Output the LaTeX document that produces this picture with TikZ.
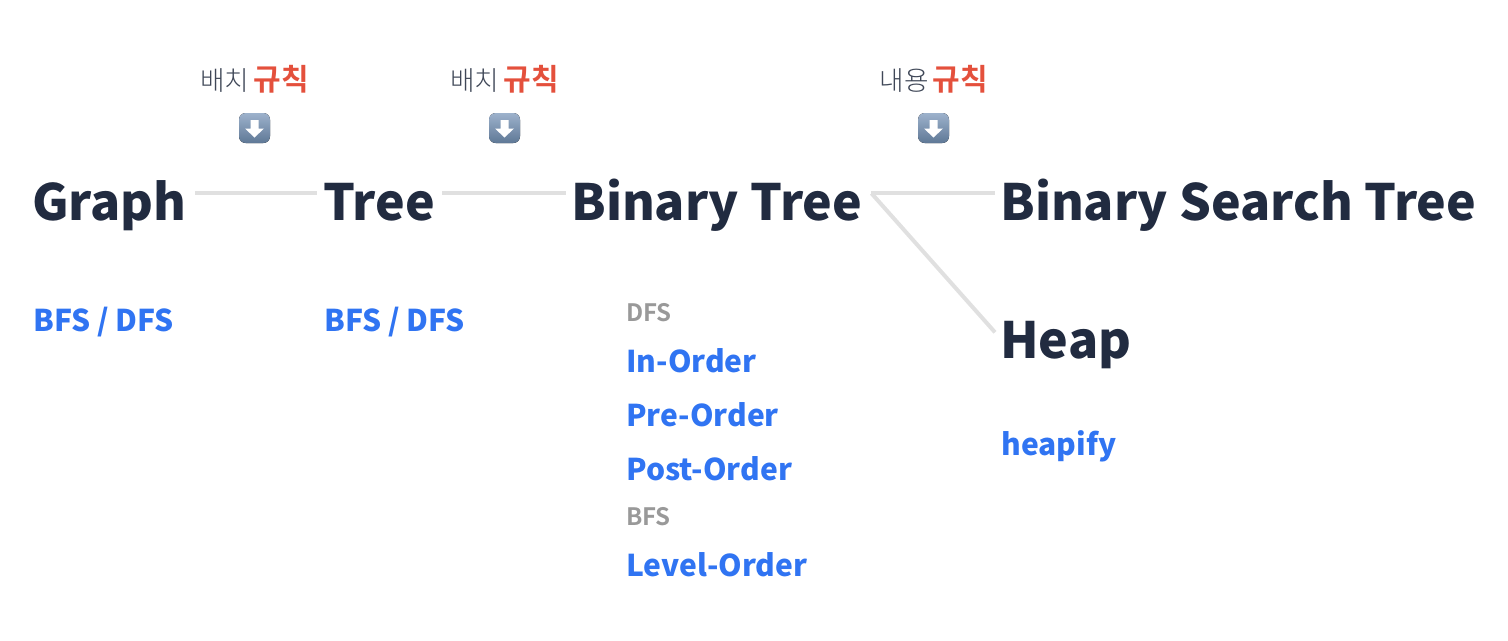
\documentclass[tikz,border=0pt]{standalone}
\usepackage{fontspec}
\setmainfont{Noto Sans CJK KR}[BoldFont={* Black}]
\newfontfamily\midfont{Noto Sans CJK KR Bold}
\newfontfamily\thinfont{Noto Sans CJK KR Light}
\definecolor{titlecol}{HTML}{212B40}
\definecolor{algocol}{HTML}{3074F2}
\definecolor{groupcol}{HTML}{999999}
\definecolor{rulecol}{HTML}{E4503C}
\definecolor{wordcol}{HTML}{3F4757}
\definecolor{linkcol}{HTML}{E0E0E0}
\definecolor{btntop}{HTML}{9DB2CC}
\definecolor{btnbot}{HTML}{5F7896}
\tikzset{
  title/.style={anchor=base west,inner sep=0pt,text=titlecol,font=\fontsize{37.5pt}{40pt}\selectfont\bfseries,text height=30pt,text depth=8pt},
  algo/.style={anchor=base west,inner sep=0pt,text=algocol,font=\fontsize{22.5pt}{28pt}\selectfont\bfseries},
  group/.style={anchor=base west,inner sep=0pt,text=groupcol,font=\fontsize{18pt}{20pt}\selectfont\midfont},
  note/.style={anchor=base,inner sep=0pt,text=wordcol,font=\fontsize{20pt}{24pt}\selectfont\thinfont},
  link/.style={draw=linkcol,line width=3pt,line cap=butt},
  pics/downbtn/.style={code={
    \fill[top color=btntop,bottom color=btnbot,rounded corners=5pt] (-15.5,-15) rectangle (15.5,15);
    \fill[white] (-4,-8) -- (4,-8) -- (4,0.5) -- (9.5,0.5) -- (0,9.5) -- (-9.5,0.5) -- (-4,0.5) -- cycle;
  }}
}
\newcommand{\rulenote}[1]{{#1}\hspace{3pt}{\fontsize{22.5pt}{24pt}\selectfont\bfseries\color{rulecol}규칙}}
\begin{document}
\begin{tikzpicture}[x=0.75pt,y=-0.75pt,line cap=round,line join=round]
\useasboundingbox (0,0) rectangle (1508,640);

% titoli
\node[title] (graph) at (32,220) {Graph};
\node[title] (tree) at (323,220) {Tree};
\node[title] (bintree) at (571,220) {Binary Tree};
\node[title] (bst) at (1000,220) {Binary Search Tree};
\node[title] (heap) at (1000,358) {Heap};

% collegamenti
\draw[link] ([shift={(8,-12)}]graph.east) -- ([shift={(-6,-12)}]tree.west);
\draw[link] ([shift={(7,-12)}]tree.east) -- ([shift={(-5,-12)}]bintree.west);
\draw[link] ([shift={(9,-12)}]bintree.east) -- ([shift={(-5,-12)}]bst.west);
\draw[link] ([shift={(9,-12)}]bintree.east) -- ([shift={(-5,-11)}]heap.west);

% note sopra
\node[note] (rule1) at (254.5,90) {\rulenote{배치}};
\node[note] (rule2) at (504.5,90) {\rulenote{배치}};
\node[note] (rule3) at (934,90) {\rulenote{내용}};
\pic at (254.5,128) {downbtn};
\pic at (504.5,128) {downbtn};
\pic at (933.5,128) {downbtn};

% algoritmi
\node[algo] (bfs1) at (33,331) {BFS / DFS};
\node[algo] (bfs2) at (324,331) {BFS / DFS};
\node[group] (dfslab) at (626,321) {DFS};
\node[algo] (inorder) at (626,372) {In-Order};
\node[algo] (preorder) at (626,426) {Pre-Order};
\node[algo] (postorder) at (626,480) {Post-Order};
\node[group] (bfslab) at (626,525) {BFS};
\node[algo] (levelorder) at (626,576) {Level-Order};
\node[algo] (heapify) at (1001,455) {heapify};

\end{tikzpicture}
\end{document}
